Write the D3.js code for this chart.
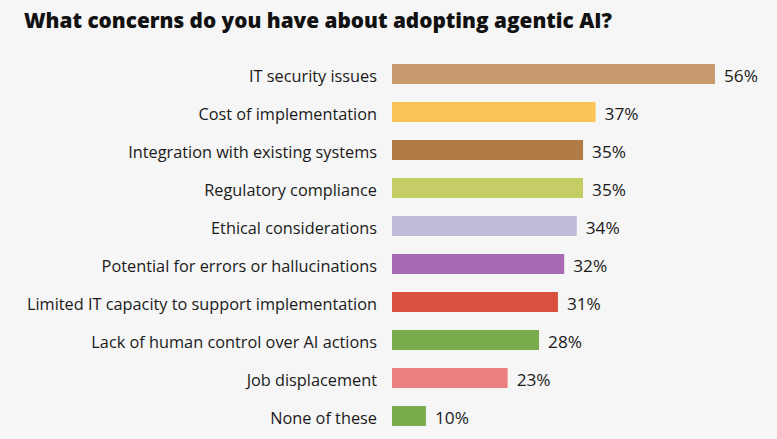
<!DOCTYPE html>
<meta charset="utf-8">
<style>
body{margin:0; background-color:#f6f6f6;}
svg{display:block;}
text{font-family:"Open Sans", "Noto Sans", sans-serif; fill:#1a1a1a;}
text.title{font-weight:800; fill:#111;}
</style>
<svg id="chart" width="777" height="439"></svg>
<script src="https://d3js.org/d3.v7.min.js"></script>
<script>
// values
const categories = [
  'IT security issues',
  'Cost of implementation',
  'Integration with existing systems',
  'Regulatory compliance',
  'Ethical considerations',
  'Potential for errors or hallucinations',
  'Limited IT capacity to support implementation',
  'Lack of human control over AI actions',
  'Job displacement',
  'None of these'
]
const percents = [56, 37, 35, 35, 34, 32, 31, 28, 23, 10]
const colors = ['#c89b6f', '#fbc55a', '#b07b47', '#c5cd67', '#bfbbd9',
                '#a96ab4', '#d9503f', '#79ad4c', '#ea8080', '#79ad4c']
const title = 'What concerns do you have about adopting agentic AI?'

const svg = d3.select('svg#chart')
const left = 392

// the bars in the picture don't start at zero, the baseline sits near 4.6%
let x = d3.scaleLinear().domain([4.6, 56]).range([0, 323])
let y = d3.scaleBand().domain(categories).range([64 - 9, 64 - 9 + 38 * categories.length])
    .paddingInner(18 / 38).paddingOuter(9 / 38)

// the original font is narrow: keep the height, squeeze the glyphs so the
// widest text of the selection comes out at the target width
function squeeze(sel, size, target) {
  sel.style('font-size', size + 'px')
  const widths = sel.nodes().map(n => n.getComputedTextLength())
  const k = target / d3.max(widths)
  sel.attr('lengthAdjust', 'spacingAndGlyphs')
    .attr('textLength', (d, i) => widths[i] * k)
}

let t = svg.append('text').attr('class', 'title')
    .attr('x', 24).attr('y', 28)
    .text(title)
squeeze(t, 21.5, 588)

let rows = svg.selectAll('g.row').data(categories)
  .enter().append('g').attr('class', 'row')
    .attr('transform', d => `translate(0,${y(d)})`)

rows.append('rect')
    .attr('x', left)
    .attr('width', (d, i) => x(percents[i]))
    .attr('height', y.bandwidth())
    .attr('fill', (d, i) => colors[i])

let labels = rows.append('text')
    .attr('x', 377)
    .attr('y', y.bandwidth() / 2)
    .attr('dy', '0.45em')
    .attr('text-anchor', 'end')
    .text(d => d)
squeeze(labels, 17, 350)

let values = rows.append('text')
    .attr('x', (d, i) => left + x(percents[i]) + 9)
    .attr('y', y.bandwidth() / 2)
    .attr('dy', '0.45em')
    .text((d, i) => percents[i] + '%')
squeeze(values, 17, 34)
</script>
